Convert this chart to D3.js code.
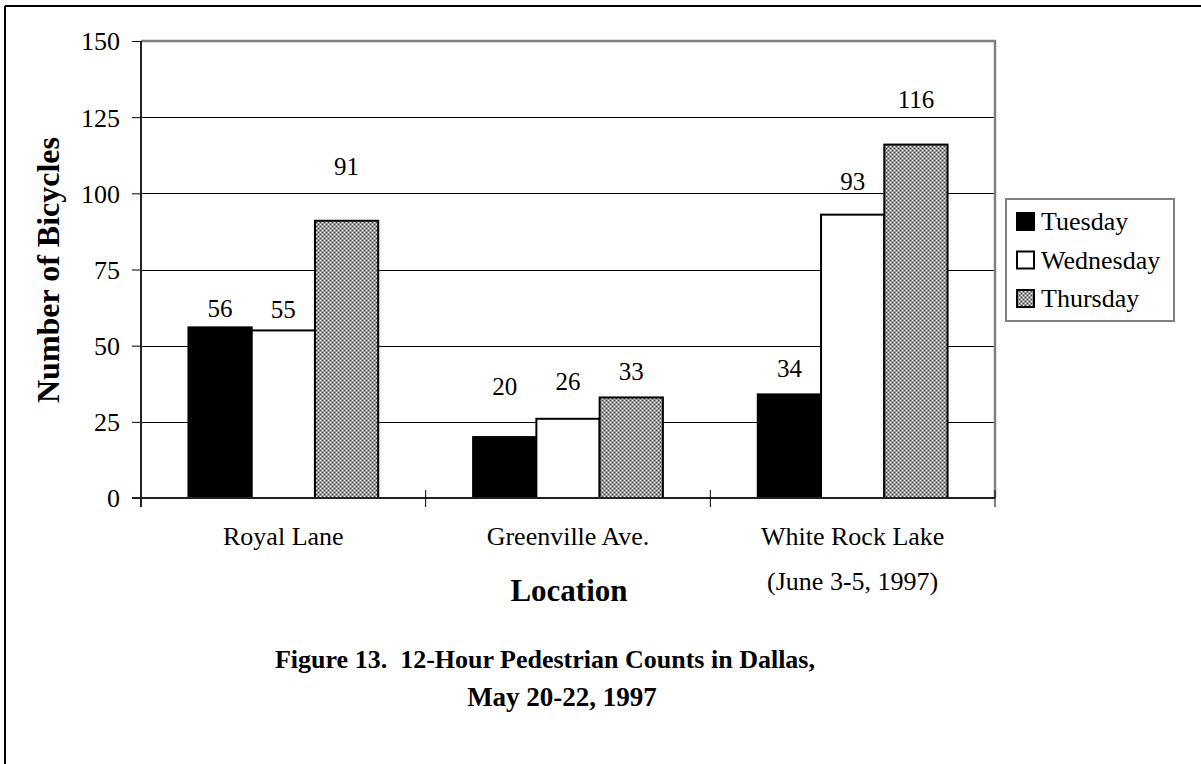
<!DOCTYPE html>
<html>
<head>
<meta charset="utf-8">
<script src="https://cdn.jsdelivr.net/npm/d3@7"></script>
<style>
  body { margin: 0; background: #fff; }
  svg text { font-family: "Liberation Serif", "Times New Roman", serif; fill: #000; }
</style>
</head>
<body>
<div class="grafico"></div>
<script>
// data
const locations = ["Royal Lane", "Greenville Ave.", "White Rock Lake"];
const days = ["Tuesday", "Wednesday", "Thursday"];
const tuesday = [56, 20, 34];
const wednesday = [55, 26, 93];
const thursday = [91, 33, 116];
const yTicks = [0, 25, 50, 75, 100, 125, 150];

const width = 1201, height = 764;
const plot = { left: 141, top: 41, right: 995, bottom: 498 };

// labels were dragged by hand in the original, gap above each bar (px)
const labelGap = {
  "Royal Lane": { Tuesday: 10, Wednesday: 12, Thursday: 46 },
  "Greenville Ave.": { Tuesday: 42, Wednesday: 29, Thursday: 17 },
  "White Rock Lake": { Tuesday: 17, Wednesday: 25, Thursday: 37 }
};

const svg = d3.select(".grafico")
  .append("svg")
  .attr("width", width)
  .attr("height", height);

// checker pattern for thursday
const defs = svg.append("defs");
const pat = defs.append("pattern")
  .attr("id", "checker")
  .attr("patternUnits", "userSpaceOnUse")
  .attr("width", 4).attr("height", 4);
pat.append("rect").attr("width", 4).attr("height", 4).attr("fill", "#9a9a9a");
pat.append("rect").attr("x", 0).attr("y", 0).attr("width", 1).attr("height", 1).attr("fill", "#fff");
pat.append("rect").attr("x", 2).attr("y", 2).attr("width", 1).attr("height", 1).attr("fill", "#fff");
pat.append("rect").attr("x", 2).attr("y", 0).attr("width", 1).attr("height", 1).attr("fill", "#444");
pat.append("rect").attr("x", 0).attr("y", 2).attr("width", 1).attr("height", 1).attr("fill", "#444");

const fills = { Tuesday: "#000", Wednesday: "#fff", Thursday: "url(#checker)" };

// outer frame (top/left visible)
svg.append("line").attr("x1", 5).attr("x2", width).attr("y1", 6).attr("y2", 6)
  .attr("stroke", "#000").attr("stroke-width", 2);
svg.append("line").attr("x1", 5).attr("x2", 5).attr("y1", 6).attr("y2", height)
  .attr("stroke", "#000").attr("stroke-width", 2);

const x = d3.scaleBand()
  .domain(locations)
  .range([plot.left, plot.right]);

// gap width 150%
const x1 = d3.scaleBand()
  .domain(days)
  .range([0, x.bandwidth()])
  .paddingOuter(0.75)
  .paddingInner(0);

const y = d3.scaleLinear()
  .domain([0, 150])
  .range([plot.bottom, plot.top]);

// gridlines
svg.append("g")
  .selectAll("line")
  .data(yTicks.filter(d => d > 0 && d < 150))
  .enter().append("line")
  .attr("x1", plot.left).attr("x2", plot.right)
  .attr("y1", d => Math.round(y(d)) + 0.5).attr("y2", d => Math.round(y(d)) + 0.5)
  .attr("stroke", "#000").attr("stroke-width", 1);

// plot frame top/right (gray)
svg.append("path")
  .attr("d", `M${plot.left},${plot.top}H${plot.right}V${plot.bottom}`)
  .attr("fill", "none").attr("stroke", "#808080").attr("stroke-width", 2.5);

// bars
const rows = [];
locations.forEach((loc, i) => {
  rows.push({ loc, day: "Tuesday", v: tuesday[i] });
  rows.push({ loc, day: "Wednesday", v: wednesday[i] });
  rows.push({ loc, day: "Thursday", v: thursday[i] });
});

svg.append("g")
  .selectAll("rect")
  .data(rows)
  .enter().append("rect")
  .attr("x", d => x(d.loc) + x1(d.day))
  .attr("y", d => y(d.v))
  .attr("width", x1.bandwidth())
  .attr("height", d => y(0) - y(d.v))
  .attr("fill", d => fills[d.day])
  .attr("stroke", "#000")
  .attr("stroke-width", 2);

// value labels
svg.append("g")
  .selectAll("text")
  .data(rows)
  .enter().append("text")
  .attr("x", d => x(d.loc) + x1(d.day) + x1.bandwidth() / 2)
  .attr("y", d => y(d.v) - labelGap[d.loc][d.day])
  .attr("text-anchor", "middle")
  .attr("font-size", 25)
  .text(d => d.v);

// y axis
const yAxis = d3.axisLeft(y).tickValues(yTicks).tickSize(9).tickPadding(12);
const gy = svg.append("g")
  .attr("transform", `translate(${plot.left},0)`)
  .call(yAxis);
gy.select(".domain").remove();
gy.append("line").attr("x1", 0).attr("x2", 0)
  .attr("y1", plot.top).attr("y2", plot.bottom + 9)
  .attr("stroke", "#222").attr("stroke-width", 2);
gy.selectAll(".tick line").attr("stroke", "#000");
gy.selectAll("text").attr("font-size", 26).attr("dy", "0.34em");

// x axis
const gx = svg.append("g").attr("transform", `translate(0,${plot.bottom})`);
gx.append("line").attr("x1", plot.left - 9).attr("x2", plot.right)
  .attr("y1", 0).attr("y2", 0).attr("stroke", "#222").attr("stroke-width", 2);
gx.selectAll(".xt")
  .data(d3.range(1, locations.length + 1))
  .enter().append("line")
  .attr("x1", d => plot.left + d * x.bandwidth())
  .attr("x2", d => plot.left + d * x.bandwidth())
  .attr("y1", -8).attr("y2", 9)
  .attr("stroke", "#000");
gx.selectAll(".xl")
  .data(locations)
  .enter().append("text")
  .attr("x", d => x(d) + x.bandwidth() / 2)
  .attr("y", 47)
  .attr("text-anchor", "middle")
  .attr("font-size", 26)
  .text(d => d);
gx.append("text")
  .attr("x", x("White Rock Lake") + x.bandwidth() / 2)
  .attr("y", 92)
  .attr("text-anchor", "middle")
  .attr("font-size", 26)
  .text("(June 3-5, 1997)");

// axis titles
svg.append("text")
  .attr("x", 569)
  .attr("y", 601)
  .attr("text-anchor", "middle")
  .attr("font-size", 31).attr("font-weight", "bold")
  .text("Location");

svg.append("text")
  .attr("transform", `translate(59,270) rotate(-90)`)
  .attr("text-anchor", "middle")
  .attr("font-size", 32).attr("font-weight", "bold")
  .text("Number of Bicycles");

// figure caption
svg.append("text")
  .attr("x", 545).attr("y", 668)
  .attr("text-anchor", "middle")
  .attr("font-size", 26).attr("font-weight", "bold")
  .attr("xml:space", "preserve")
  .text("Figure 13.  12-Hour Pedestrian Counts in Dallas,");
svg.append("text")
  .attr("x", 562).attr("y", 706)
  .attr("text-anchor", "middle")
  .attr("font-size", 27).attr("font-weight", "bold")
  .text("May 20-22, 1997");

// legend
const legend = svg.append("g").attr("transform", "translate(1006,199)");
legend.append("rect")
  .attr("width", 168).attr("height", 122)
  .attr("fill", "#fff").attr("stroke", "#808080").attr("stroke-width", 2);
const item = legend.selectAll(".item")
  .data(days)
  .enter().append("g")
  .attr("transform", (d, i) => `translate(11,${31 + i * 38.5})`);
item.append("rect")
  .attr("x", 0).attr("y", -17)
  .attr("width", 17).attr("height", 17)
  .attr("fill", d => fills[d])
  .attr("stroke", "#000").attr("stroke-width", 2);
item.append("text")
  .attr("x", 24).attr("y", 0)
  .attr("font-size", 26)
  .text(d => d);
</script>
</body>
</html>
